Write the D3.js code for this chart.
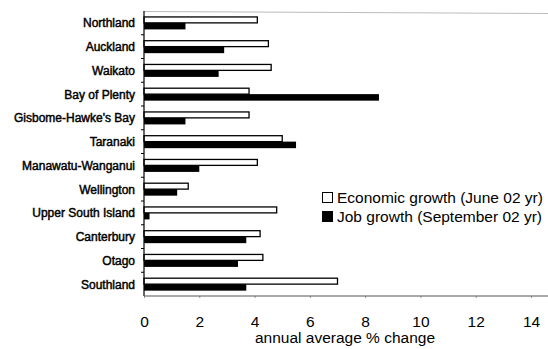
<!DOCTYPE html>
<html>
<head>
<meta charset="utf-8">
<script src="https://cdn.jsdelivr.net/npm/d3@7"></script>
<style>
  html, body { margin: 0; padding: 0; background: #fff; }
  svg { display: block; }
  text { font-family: "Liberation Sans", Arial, sans-serif; fill: #000; }
</style>
</head>
<body>
<svg id="chart" width="548" height="349"></svg>
<script>
// Regional growth, annual average % change
const regions = [
  "Northland", "Auckland", "Waikato", "Bay of Plenty", "Gisbome-Hawke's Bay",
  "Taranaki", "Manawatu-Wanganui", "Wellington", "Upper South Island",
  "Canterbury", "Otago", "Southland"
];
const economicGrowth = [4.1, 4.5, 4.6, 3.8, 3.8, 5.0, 4.1, 1.6, 4.8, 4.2, 4.3, 7.0];
const jobGrowth      = [1.5, 2.9, 2.7, 8.5, 1.5, 5.5, 2.0, 1.2, 0.2, 3.7, 3.4, 3.7];
const xTicks = [0, 2, 4, 6, 8, 10, 12, 14];
const seriesNames = ["Economic growth (June 02 yr)", "Job growth (September 02 yr)"];
const seriesKeys = ["econ", "job"];

const svg = d3.select("#chart");
const plotLeft = 144, plotRight = 531, plotTop = 11, plotBottom = 296;

const x = d3.scaleLinear().domain([0, 14]).range([plotLeft, plotRight]);
const y = d3.scaleBand().domain(regions).range([plotTop, plotBottom])
  .paddingInner(0.45).paddingOuter(0.225);
const sub = d3.scaleBand().domain(seriesKeys).range([0, y.bandwidth()]);

const rows = regions.map((r, i) => ({ region: r, econ: economicGrowth[i], job: jobGrowth[i] }));

// faint plot frame line along the top, running to the edge
svg.append("line").attr("x1", plotLeft).attr("x2", 548).attr("y1", plotTop + 0.5).attr("y2", plotTop + 2.5)
  .attr("stroke", "#aaa").attr("stroke-width", 0.8);

// bars
const g = svg.append("g");
rows.forEach(d => {
  g.append("rect")
    .attr("x", x(0))
    .attr("y", y(d.region) + sub("econ") + 0.6)
    .attr("width", x(d.econ) - x(0))
    .attr("height", sub.bandwidth() - 0.6)
    .attr("fill", "#fff").attr("stroke", "#000").attr("stroke-width", 1.3);
  g.append("rect")
    .attr("x", x(0))
    .attr("y", y(d.region) + sub("job"))
    .attr("width", x(d.job) - x(0))
    .attr("height", sub.bandwidth())
    .attr("fill", "#000");
});

// category axis
svg.append("line").attr("x1", plotLeft).attr("x2", plotLeft).attr("y1", plotTop).attr("y2", plotBottom)
  .attr("stroke", "#000").attr("stroke-width", 1.2);
const edges = regions.map(r => y(r) - y.step() * y.paddingInner() / 2).slice(1);
svg.selectAll(".ytick").data(edges).join("line")
  .attr("class", "ytick")
  .attr("x1", plotLeft - 3).attr("x2", plotLeft).attr("y1", d => d).attr("y2", d => d)
  .attr("stroke", "#000").attr("stroke-width", 1);
svg.selectAll(".ylab").data(regions).join("text")
  .attr("class", "ylab")
  .attr("x", 135)
  .attr("y", d => y(d) + y.bandwidth() / 2 + 4.5)
  .attr("text-anchor", "end")
  .attr("font-size", 12)
  .attr("stroke", "#000").attr("stroke-width", 0.45)
  .text(d => d);

// value axis
const xAxis = d3.axisBottom(x).tickValues(xTicks).tickSize(2).tickPadding(18).tickFormat(d3.format("d"));
const xg = svg.append("g").attr("transform", `translate(0,${plotBottom})`).call(xAxis);
xg.select(".domain").remove();
xg.selectAll(".tick line").attr("stroke", "#999");
xg.selectAll(".tick text").attr("font-size", 15.5).attr("font-family", "Liberation Sans, Arial, sans-serif");
svg.append("line").attr("x1", plotLeft).attr("x2", 548).attr("y1", plotBottom).attr("y2", plotBottom)
  .attr("stroke", "#555").attr("stroke-width", 1);

svg.append("text")
  .attr("x", 345).attr("y", 343)
  .attr("text-anchor", "middle")
  .attr("font-size", 15.5)
  .text("annual average % change");

// legend
const legend = svg.append("g").attr("transform", "translate(322,192)");
seriesNames.forEach((name, i) => {
  const row = legend.append("g").attr("transform", `translate(0,${i * 19})`);
  row.append("rect").attr("x", 0.5).attr("y", 0.5).attr("width", 10).attr("height", 10)
    .attr("fill", i === 0 ? "#fff" : "#000").attr("stroke", "#000").attr("stroke-width", 1);
  row.append("text").attr("x", 15).attr("y", 10.5).attr("font-size", 15.5).text(name);
});
</script>
</body>
</html>
